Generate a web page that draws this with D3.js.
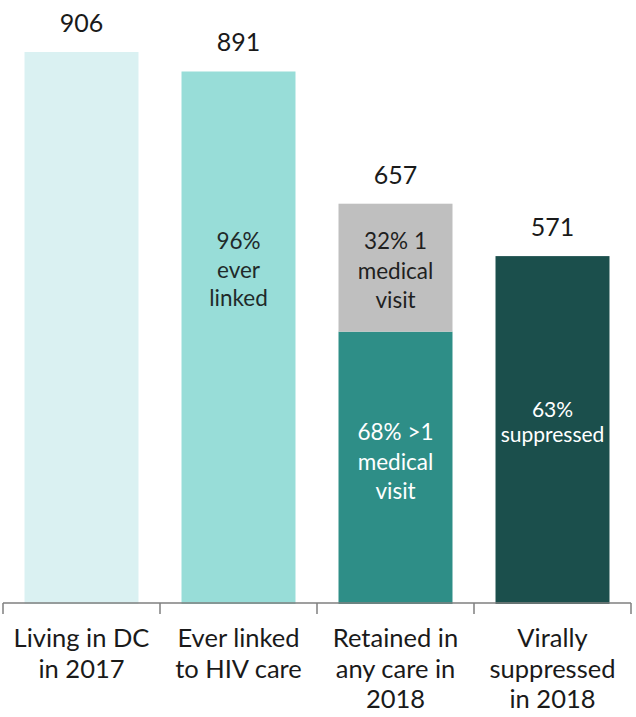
<!DOCTYPE html>
<html><head><meta charset="utf-8">
<script src="https://cdn.jsdelivr.net/npm/d3@7"></script>
<style>body{margin:0;background:#fff}svg{display:block}</style>
</head><body>
<svg id="chart" width="636" height="717"></svg>
<script>
const categories = ["Living in DC in 2017", "Ever linked to HIV care", "Retained in any care in 2018", "Virally suppressed in 2018"];
const categoryLines = [["Living in DC", "in 2017"], ["Ever linked", "to HIV care"], ["Retained in", "any care in", "2018"], ["Virally", "suppressed", "in 2018"]];
const valueLabels = ["906", "891", "657", "571"];
// bar heights as drawn in the picture
const baseValues = [906, 874, 447, 571];   // main (bottom) segment
const topValues = [0, 0, 210, 0];          // stacked grey segment (1 medical visit)
const baseColors = ["#DAF1F2", "#98DDD8", "#2E8E87", "#1B4F4C"];
const topColor = "#BFBFBF";
const innerLabels = [[], ["96%", "ever", "linked"], ["68% >1", "medical", "visit"], ["63%", "suppressed"]];
const topLabels = [[], [], ["32% 1", "medical", "visit"], []];

const svg = d3.select("#chart");
const font = "Lato, 'Open Sans', sans-serif";
const x = d3.scaleBand().domain(categories).range([3, 631]).paddingInner(0.274).paddingOuter(0.137);
const xOuter = d3.scaleBand().domain(categories).range([3, 631]);
const y = d3.scaleLinear().domain([0, 906]).range([604, 52]);

const data = categories.map((c, i) => ({c, i, base: baseValues[i], top: topValues[i]}));

// bars
svg.selectAll("rect.base").data(data).join("rect").attr("class", "base")
  .attr("x", d => x(d.c)).attr("width", x.bandwidth())
  .attr("y", d => y(d.base)).attr("height", d => y(0) - y(d.base))
  .attr("fill", d => baseColors[d.i]);
svg.selectAll("rect.top").data(data.filter(d => d.top > 0)).join("rect").attr("class", "top")
  .attr("x", d => x(d.c)).attr("width", x.bandwidth())
  .attr("y", d => y(d.base + d.top)).attr("height", d => y(d.base) - y(d.base + d.top))
  .attr("fill", topColor);

// value labels
svg.selectAll("text.val").data(data).join("text").attr("class", "val")
  .attr("x", d => x(d.c) + x.bandwidth() / 2)
  .attr("y", d => y(d.base + d.top) - 20)
  .attr("text-anchor", "middle").attr("font-family", font).attr("font-size", 25)
  .attr("fill", "#1a1a1a").text(d => valueLabels[d.i]);

// inner labels
function multiline(sel, lines, cx, cy, lh, size, color) {
  const n = lines.length;
  lines.forEach((t, k) => {
    sel.append("text").attr("x", cx).attr("y", cy + (k - (n - 1) / 2) * lh)
      .attr("dy", "0.35em").attr("text-anchor", "middle")
      .attr("font-family", font).attr("font-size", size).attr("fill", color).text(t);
  });
}
const g = svg.append("g");
data.forEach(d => {
  const cx = x(d.c) + x.bandwidth() / 2;
  if (d.i === 1) multiline(g, innerLabels[1], cx, 270, 28.5, 22.5, "#1f2a2a");
  if (d.i === 2) {
    multiline(g, innerLabels[2], cx, 462, 29.5, 22.5, "#ffffff");
    multiline(g, topLabels[2], cx, 271, 29.5, 22.5, "#1f1f1f");
  }
  if (d.i === 3) multiline(g, innerLabels[3], cx, 422.5, 25, 21, "#ffffff");
});

// axis
const axisY = y(0) - 1;
svg.append("line").attr("x1", xOuter.range()[0]).attr("x2", xOuter.range()[1])
  .attr("y1", axisY).attr("y2", axisY).attr("stroke", "#7f7f7f").attr("stroke-width", 1.5);
const tickXs = categories.map(c => xOuter(c)).concat([xOuter.range()[1]]);
svg.selectAll("line.tick").data(tickXs).join("line").attr("class", "tick")
  .attr("x1", d => d).attr("x2", d => d).attr("y1", axisY).attr("y2", axisY + 11)
  .attr("stroke", "#7f7f7f").attr("stroke-width", 1.5);

// category labels
data.forEach(d => {
  categoryLines[d.i].forEach((t, k) => {
    svg.append("text").attr("x", xOuter(d.c) + xOuter.bandwidth() / 2)
      .attr("y", 647 + k * 30.5).attr("text-anchor", "middle")
      .attr("font-family", font).attr("font-size", 25.5).attr("fill", "#1a1a1a").text(t);
  });
});
</script>
</body></html>
